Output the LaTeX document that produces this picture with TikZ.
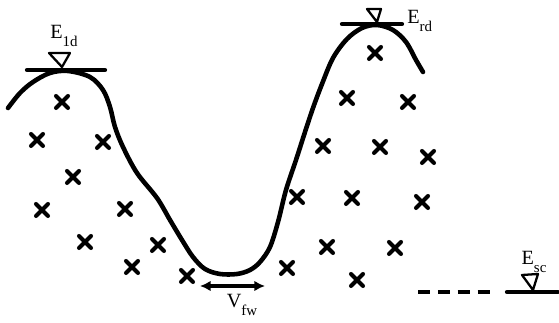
\documentclass[tikz,border=0pt]{standalone}
\usepackage{fontspec}
\setmainfont{Liberation Serif}
\usetikzlibrary{arrows.meta}
\newcommand{\lvl}[2]{#1\raisebox{-4.5pt}{\fontsize{8.5}{10}\selectfont #2}}

\begin{document}
\begin{tikzpicture}[x=0.02cm,y=-0.02cm,
    band/.style={line width=2.6pt, line cap=round, line join=round},
    level/.style={line width=2.4pt, line cap=round},
    fermi/.style={line width=1.3pt, line join=round},
    dopant/.style={line width=2.3pt, line cap=round},
    lbl/.style={font=\fontsize{11.5}{13}\selectfont, inner sep=0pt}]
        \useasboundingbox (0,0) rectangle (559,323);

        \draw[band] plot[smooth, tension=0.55] coordinates {
            (8,108) (20,93) (33,82) (50,73) (68,71) (90,77) (103,90) (110,107)
            (115,127) (123,147) (137,173) (157,198) (170,220) (182,240) (193,257)
            (205,269) (220,274) (237,274) (250,270) (260,262) (270,247) (278,222)
            (286,190) (296,160) (305,132) (313,108) (322,84) (333,58) (347,39)
            (362,28) (377,25) (393,30) (406,42) (416,60) (423,72)};

        \coordinate (lda) at (27,70);
        \coordinate (ldb) at (105,70);
        \coordinate (rda) at (342,24);
        \coordinate (rdb) at (402,24);
        \coordinate (sca) at (507,292);
        \coordinate (scb) at (558,292);
        \coordinate (dsa) at (418,292);
        \coordinate (dsb) at (490,292);
        \coordinate (fwa) at (200,286);
        \coordinate (fwb) at (265,286);

        \draw[level] (lda) -- (ldb);
        \draw[level] (rda) -- (rdb);
        \draw[level] (sca) -- (scb);
        \draw[level, line cap=butt, dash pattern=on 6.8pt off 4.5pt] (dsa) -- (dsb);
        \draw[line width=2pt, {Latex[length=6pt,width=6pt]}-{Latex[length=6pt,width=6pt]}] (fwa) -- (fwb);

        \draw[fermi] (49,53) -- (70,53) -- (62,67) -- cycle;
        \draw[fermi] (367,9) -- (381,9) -- (377,22) -- cycle;
        \draw[fermi] (522,275) -- (538,274) -- (533,290) -- cycle;

        \node[lbl] (eld) at (64,36) {\lvl{E}{1d}};
        \node[lbl, anchor=west] (erd) at (407,21) {\lvl{E}{rd}};
        \node[lbl] (esc) at (534,262) {\lvl{E}{sc}};
        \node[lbl] (vfw) at (242,305) {\lvl{V}{fw}};

        \foreach \p in {(62,102),(37,140),(103,142),(73,177),(42,210),(125,209),
                        (85,242),(158,245),(132,267),(187,276),
                        (375,53),(347,98),(408,102),(323,146),(380,147),(428,157),
                        (297,197),(352,198),(422,202),(327,247),(395,248),
                        (287,268),(357,280)}
            \draw[dopant] \p ++(-6,-6) -- ++(12,12) \p ++(-6,6) -- ++(12,-12);

    \end{tikzpicture}
\end{document}
